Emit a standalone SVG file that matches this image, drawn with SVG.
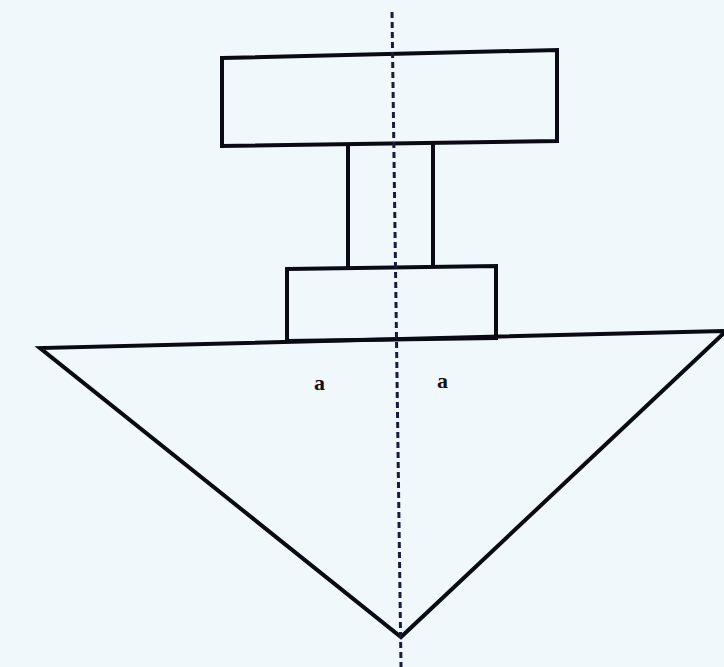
<svg xmlns="http://www.w3.org/2000/svg" width="724" height="667" viewBox="0 0 724 667">
<style>
.ln{fill:none;stroke:#0a0a14;stroke-width:4;stroke-linejoin:miter}
.ax{fill:none;stroke:#1a1a3a;stroke-width:3;stroke-dasharray:6 4}
.lbl{font-family:"Liberation Serif",serif;font-size:22px;font-weight:bold;fill:#111}
</style>
<rect width="724" height="667" fill="#f1f8fb"/>
<g id="top-block"><polygon class="ln" points="222,58 557,50 557,141 222,146"/></g>
<g id="stem"><polyline class="ln" points="348,146 348,268"/><polyline class="ln" points="433,144 433,266"/></g>
<g id="lower-block"><polygon class="ln" points="287,269 496,266 496,338 287,341"/></g>
<g id="cone"><polyline class="ln" points="724,331 40,348 401,637 724,333"/></g>
<g id="connectors"><line class="ax" x1="392" y1="12" x2="401" y2="667"/></g>
<text class="lbl" x="314" y="390">a</text>
<text class="lbl" x="437" y="388">a</text>
</svg>
